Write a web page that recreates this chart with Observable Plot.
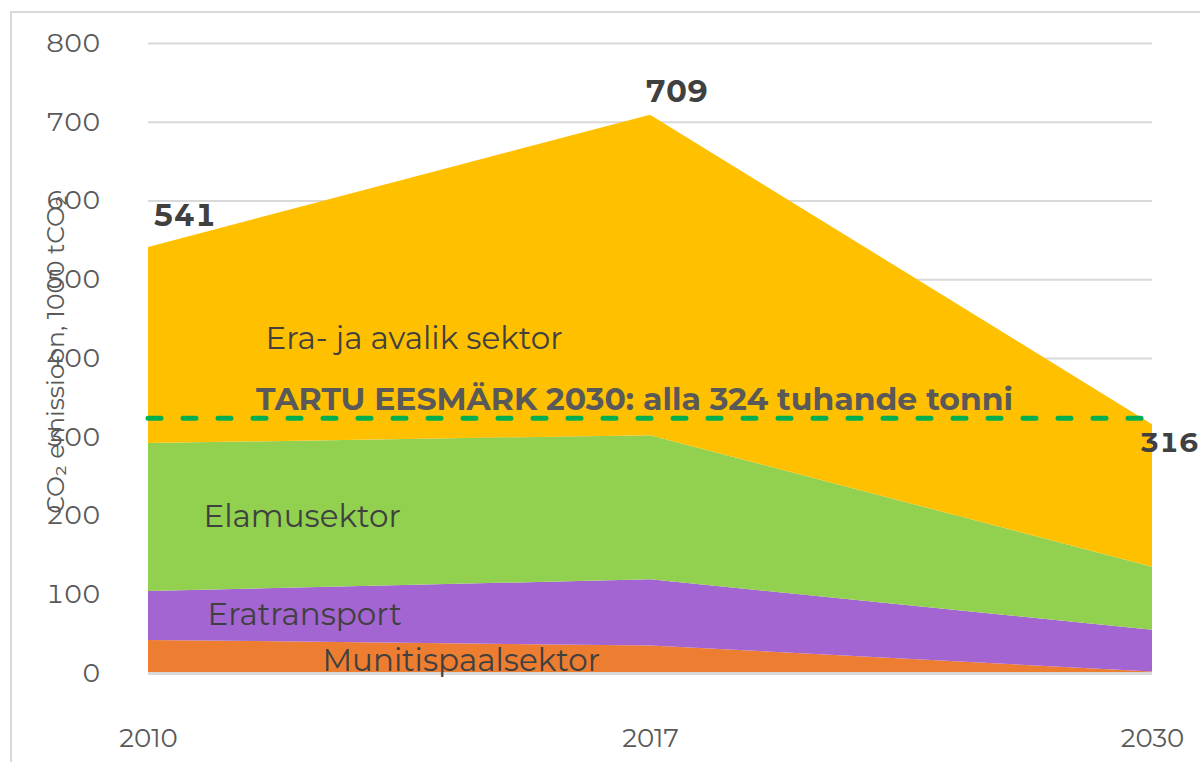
<!DOCTYPE html>
<html>
<head>
<meta charset="utf-8">
<script src="https://cdn.jsdelivr.net/npm/d3@7"></script>
<script src="https://cdn.jsdelivr.net/npm/@observablehq/plot@0.6"></script>
<style>
  html, body { margin: 0; padding: 0; background: #fff; }
  #wrap { position: relative; width: 1200px; height: 762px; overflow: hidden; }
  #frame { position: absolute; left: 10px; top: 11px; width: 1300px; height: 800px; border: 2px solid #d9d9d9; box-sizing: border-box; pointer-events: none; }
  #chart { position: absolute; left: 0; top: 0; }
</style>
</head>
<body>
<div id="wrap"><div id="frame"></div><div id="chart"></div></div>
<script>
const years = ["2010", "2017", "2030"];
const sectors = ["Munitispaalsektor", "Eratransport", "Elamusektor", "Era- ja avalik sektor"];
const colors = ["#ED7D31", "#A365D1", "#92D050", "#FFC000"];
const muni = [42, 35, 2];
const eratransport = [62, 84, 53];
const elamu = [188, 183, 80];
const eraAvalik = [249, 407, 181];
const totals = [541, 709, 316];
const target = 324;
const targetLabel = "TARTU EESMÄRK 2030: alla 324 tuhande tonni";
const yTicks = [0, 100, 200, 300, 400, 500, 600, 700, 800];
const yTitle = "CO₂ emissioon, 1000 tCO₂";

const seriesValues = [muni, eratransport, elamu, eraAvalik];
const data = [];
sectors.forEach((s, i) => years.forEach((y, j) => data.push({year: y, sector: s, value: seriesValues[i][j]})));
const totalData = years.map((y, j) => ({year: y, total: totals[j]}));

// label positions at the middle of each layer in 2010
const labelData = sectors.map((s, i) => {
  let base = 0;
  for (let k = 0; k < i; k++) base += seriesValues[k][0];
  return {sector: s, year: "2010", mid: base + seriesValues[i][0] / 2};
});

const font = "Montserrat, 'Open Sans', sans-serif";
const textCol = "#404040";
const lblSize = 31;

const chart = Plot.plot({
  width: 1200,
  height: 762,
  marginLeft: 148,
  marginRight: 48,
  marginTop: 43,
  marginBottom: 89,
  style: {fontFamily: font, background: "transparent", overflow: "visible"},
  x: {type: "point", domain: years, padding: 0},
  y: {domain: [0, 800]},
  color: {domain: sectors, range: colors},
  marks: [
    Plot.gridY(yTicks, {stroke: "#d9d9d9", strokeOpacity: 1, strokeWidth: 2}),
    Plot.areaY(data, Plot.stackY({x: "year", y: "value", fill: "sector", order: sectors})),
    Plot.ruleY([0], {stroke: "#d9d9d9", strokeWidth: 3}),
    Plot.ruleY([target], {stroke: "#00B050", strokeWidth: 5, strokeDasharray: "13,22", strokeLinecap: "round"}),
    Plot.axisY(yTicks, {tickSize: 0, tickPadding: 48, fontSize: 26, fill: "#595959", label: null}),
    Plot.axisX({tickSize: 0, tickPadding: 55, fontSize: 26, fill: "#595959", label: null}),
    Plot.text([yTitle], {frameAnchor: "left", textAnchor: "middle", dx: -93, dy: -4, rotate: -90, fontSize: 25, fill: "#595959"}),
    Plot.text(labelData.filter(d => d.sector === "Era- ja avalik sektor"), {x: "year", y: "mid", text: "sector", textAnchor: "start", dx: 117, dy: -6, fontSize: lblSize, fill: textCol}),
    Plot.text(labelData.filter(d => d.sector === "Elamusektor"), {x: "year", y: "mid", text: "sector", textAnchor: "start", dx: 55, dy: 0, fontSize: lblSize, fill: textCol}),
    Plot.text(labelData.filter(d => d.sector === "Eratransport"), {x: "year", y: "mid", text: "sector", textAnchor: "start", dx: 59, dy: -1, fontSize: lblSize, fill: textCol}),
    Plot.text(labelData.filter(d => d.sector === "Munitispaalsektor"), {x: "year", y: "mid", text: "sector", textAnchor: "start", dx: 174, dy: 4, fontSize: lblSize, fill: textCol}),
    Plot.text([{year: "2017", v: target}], {x: "year", y: "v", text: () => targetLabel, dx: -16, dy: -18, fontSize: 31.5, fontWeight: "bold", fill: "#595959"}),
    Plot.text(totalData.filter(d => d.year === "2010"), {x: "year", y: "total", text: "total", dx: 36, dy: -31, fontSize: 30, fontWeight: "bold", fill: textCol}),
    Plot.text(totalData.filter(d => d.year === "2017"), {x: "year", y: "total", text: "total", dx: 26, dy: -23, fontSize: 30, fontWeight: "bold", fill: textCol}),
    Plot.text(totalData.filter(d => d.year === "2030"), {x: "year", y: "total", text: "total", textAnchor: "end", dx: 46, dy: 18, fontSize: 28, fontWeight: "bold", fill: textCol})
  ]
});
document.getElementById("chart").appendChild(chart);
</script>
</body>
</html>
